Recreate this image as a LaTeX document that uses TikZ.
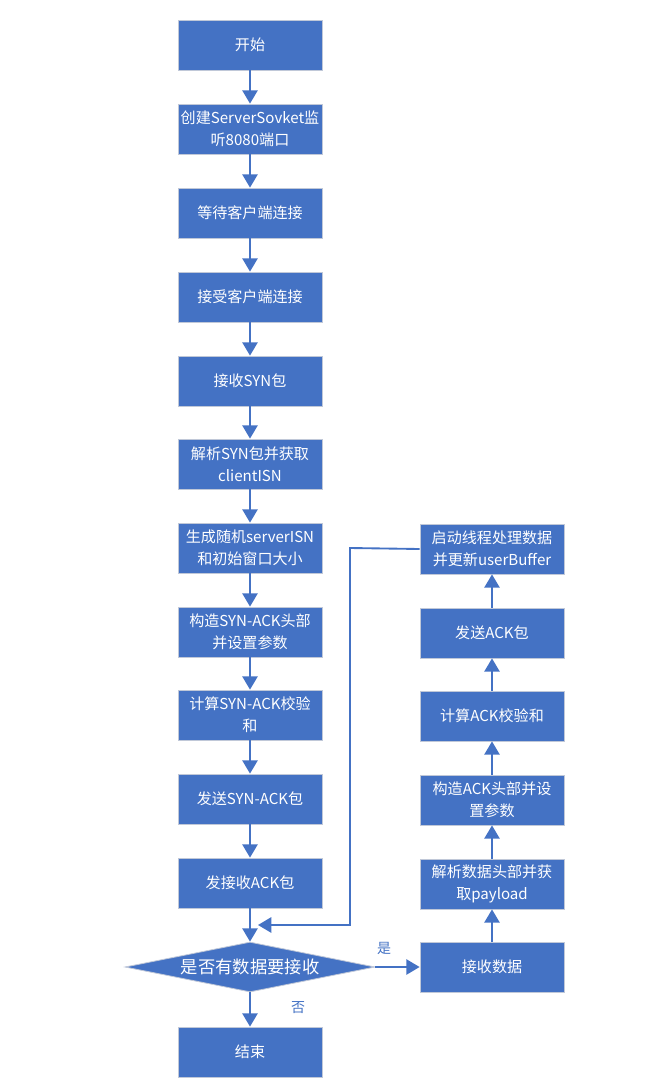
\documentclass[tikz,border=0pt]{standalone}
\usepackage{fontspec}
\setmainfont{Noto Sans CJK SC}
\usetikzlibrary{arrows.meta,shapes.geometric}
\definecolor{boxblue}{HTML}{4472C4}
\definecolor{linegray}{HTML}{C0C8D8}
\begin{document}
\begin{tikzpicture}[x=0.75pt,y=-0.75pt,
  box/.style={rectangle,fill=boxblue,draw=linegray,line width=0.6pt,minimum width=108pt,minimum height=37.5pt,text=white,font=\fontsize{11.3}{16.5}\selectfont,align=center,inner sep=0pt},
  dia/.style={diamond,fill=boxblue,draw=linegray,line width=0.6pt,text=white,font=\fontsize{13}{16}\selectfont,inner sep=0pt,minimum width=187.5pt,minimum height=37.5pt},
  conn/.style={draw=boxblue,line width=1.4pt,-{Triangle[width=11.5pt,length=10pt]}},
  lab/.style={text=boxblue,font=\fontsize{10.5}{12}\selectfont}]
\useasboundingbox (0,0) rectangle (650,1089);
\node[box] (n1) at (250,45) {开始};
\node[box] (n2) at (250,129) {创建ServerSovket监\\听8080端口};
\node[box] (n3) at (250,213) {等待客户端连接};
\node[box] (n4) at (250,297) {接受客户端连接};
\node[box] (n5) at (250,381) {接收SYN包};
\node[box] (n6) at (250,464) {解析SYN包并获取\\clientISN};
\node[box] (n7) at (250,548) {生成随机serverISN\\和初始窗口大小};
\node[box] (n8) at (250,632) {构造SYN-ACK头部\\并设置参数};
\node[box] (n9) at (250,715) {计算SYN-ACK校验\\和};
\node[box] (n10) at (250,799) {发送SYN-ACK包};
\node[box] (n11) at (250,883) {发接收ACK包};
\node[dia] (d) at (250,967) {\makebox[0pt]{是否有数据要接收}};
\node[box] (e) at (250,1052) {结束};
\node[box] (r1) at (492,967) {接收数据};
\node[box] (r2) at (492,884) {解析数据头部并获\\取payload};
\node[box] (r3) at (492,800) {构造ACK头部并设\\置参数};
\node[box] (r4) at (492,716) {计算ACK校验和};
\node[box] (r5) at (492,633) {发送ACK包};
\node[box] (r6) at (492,549) {启动线程处理数据\\并更新userBuffer};
\coordinate (loopend) at (258,925);
\draw[conn] (n1) -- (n2);
\draw[conn] (n2) -- (n3);
\draw[conn] (n3) -- (n4);
\draw[conn] (n4) -- (n5);
\draw[conn] (n5) -- (n6);
\draw[conn] (n6) -- (n7);
\draw[conn] (n7) -- (n8);
\draw[conn] (n8) -- (n9);
\draw[conn] (n9) -- (n10);
\draw[conn] (n10) -- (n11);
\draw[conn] (n11) -- (d);
\draw[conn] (d) -- (e);
\draw[conn] (d) -- (r1);
\draw[conn] (r1) -- (r2);
\draw[conn] (r2) -- (r3);
\draw[conn] (r3) -- (r4);
\draw[conn] (r4) -- (r5);
\draw[conn] (r5) -- (r6);
\draw[conn] (r6.west) -- (350,548) |- (loopend);
\node[lab] at (384,948) {是};
\node[lab] at (298,1008) {否};
\end{tikzpicture}
\end{document}
